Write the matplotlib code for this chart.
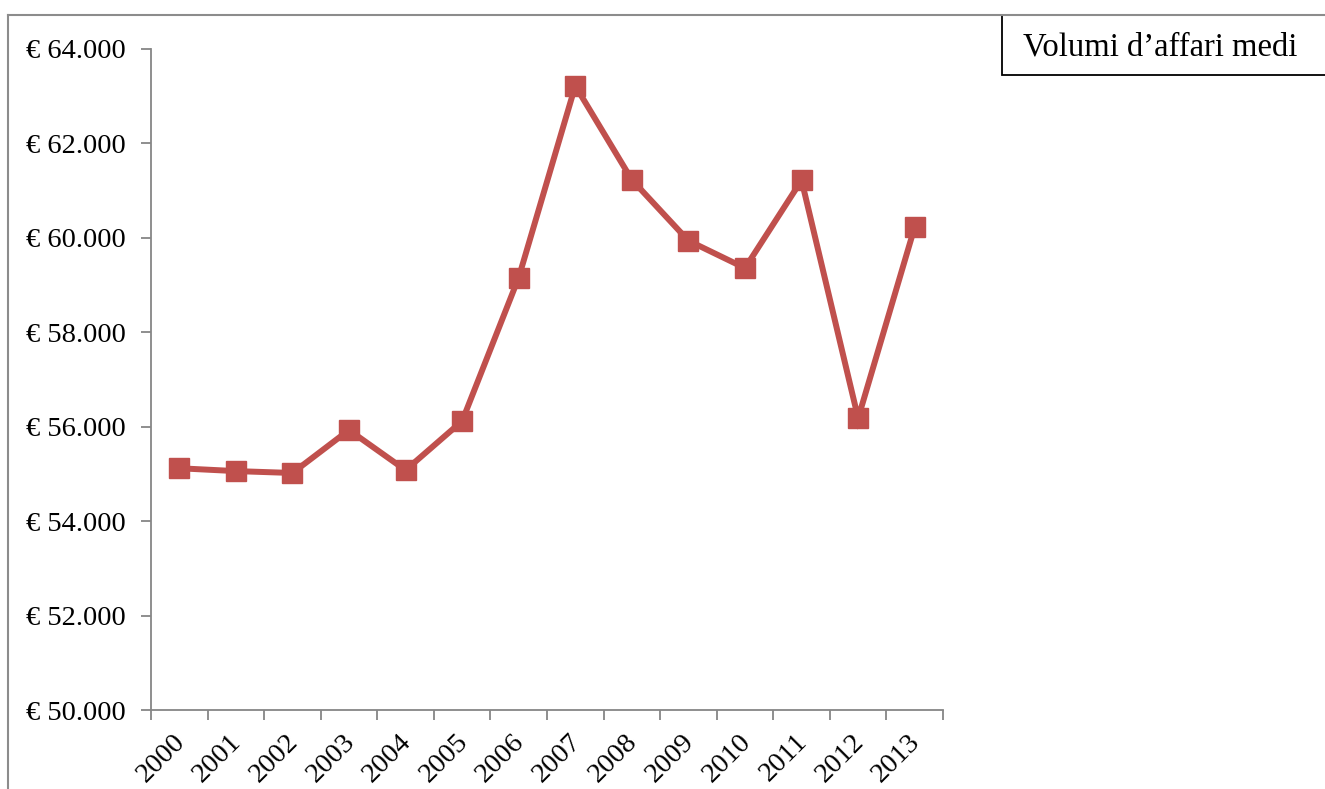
import matplotlib
matplotlib.use("Agg")
import matplotlib.pyplot as plt
from matplotlib.ticker import FuncFormatter
from matplotlib.lines import Line2D
from matplotlib.patches import Rectangle

years = ["2000", "2001", "2002", "2003", "2004", "2005", "2006",
         "2007", "2008", "2009", "2010", "2011", "2012", "2013"]
volumes = [55120, 55060, 55020, 55930, 55080, 56120, 59160,
           63220, 61230, 59940, 59360, 61220, 56180, 60230]
y_ticks = [50000, 52000, 54000, 56000, 58000, 60000, 62000, 64000]
series_name = "Volumi d\u2019affari medi"

plt.rcParams["font.family"] = ["Liberation Serif", "DejaVu Serif"]

W, H = 1325, 789
fig = plt.figure(figsize=(W / 100, H / 100), dpi=100)

def fx(px):
    return px / W

def fy(py):
    return 1 - py / H

# plot area
ax = fig.add_axes([fx(151), fy(710), fx(943) - fx(151), fy(49) - fy(710)])
x = list(range(len(years)))
ax.plot(x, volumes, color="#C0504D", lw=4.3, marker="s", ms=15,
        markerfacecolor="#C0504D", markeredgecolor="#C0504D", mew=1,
        solid_joinstyle="miter", clip_on=False, zorder=3)

ax.set_xlim(-0.5, len(years) - 0.5)
ax.set_ylim(50000, 64000)
ax.set_yticks(y_ticks)
ax.yaxis.set_major_formatter(
    FuncFormatter(lambda v, p: "\u20ac " + f"{int(v):,}".replace(",", ".")))

# category boundaries carry the tick marks, years sit between them
ax.set_xticks([i - 0.5 for i in range(len(years) + 1)])
ax.set_xticklabels([])
for i, yr in zip(x, years):
    ax.annotate(yr, xy=(i, 0), xycoords=ax.get_xaxis_transform(),
                xytext=(-5, -14), textcoords="offset points",
                rotation=45, ha="right", va="top", rotation_mode="anchor",
                fontsize=20.5, annotation_clip=False)

ax.tick_params(axis="x", which="major", length=7, width=1.3, color="#868686")
ax.tick_params(axis="y", length=7, width=1.3, color="#868686", labelsize=20.5, pad=11)

for s in ["top", "right"]:
    ax.spines[s].set_visible(False)
for s in ["left", "bottom"]:
    ax.spines[s].set_color("#868686")
    ax.spines[s].set_linewidth(1.3)

# outer frame of the chart
fig.add_artist(Line2D([fx(8), 1], [fy(15), fy(15)], color="#8c8c8c", lw=1.5))
fig.add_artist(Line2D([fx(8), fx(8)], [fy(15), 0], color="#8c8c8c", lw=1.5))

# series label box
fig.add_artist(Rectangle((fx(1002), fy(75)), 1 - fx(1002) + 0.01, fy(15) - fy(75),
                         facecolor="white", edgecolor="black", lw=1.3,
                         transform=fig.transFigure))
fig.text(fx(1023), fy(47), series_name, fontsize=23.5, va="center", ha="left")

fig.savefig("out.png", dpi=100)
